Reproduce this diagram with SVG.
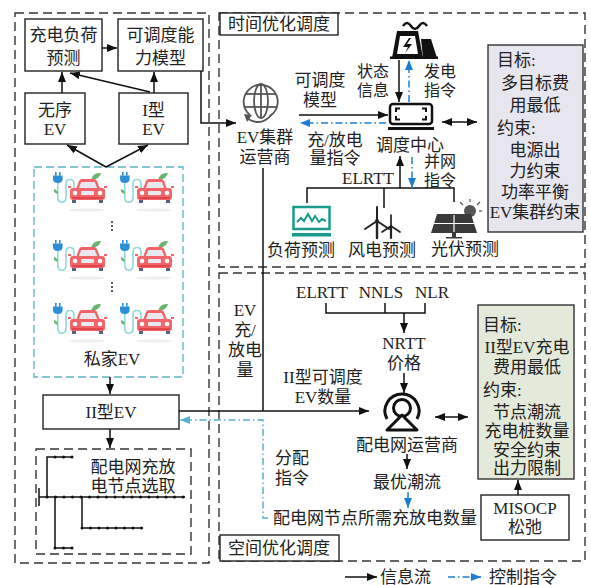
<svg xmlns="http://www.w3.org/2000/svg" xmlns:xlink="http://www.w3.org/1999/xlink" width="591" height="585" viewBox="0 0 591 585">
<style>
  text { font-family: "Liberation Serif", "Noto Sans CJK SC", serif; font-size: 17px; fill: #222; text-anchor: middle; dominant-baseline: central; }
  .l { text-anchor: start; }
  .s { font-size: 16px; }
  .box { fill: #fff; stroke: #222; stroke-width: 1.4; }
  .dash { fill: none; stroke: #333; stroke-width: 1.4; stroke-dasharray: 9 5; }
  .tdash { fill: none; stroke: #5ab4cc; stroke-width: 1.3; stroke-dasharray: 8 4; }
  .ln { fill: none; stroke: #111; stroke-width: 1.5; }
  .arr { fill: none; stroke: #111; stroke-width: 1.5; marker-end: url(#ah); }
  .bi { fill: none; stroke: #111; stroke-width: 1.5; marker-start: url(#ah); marker-end: url(#ah); }
  .ctl { fill: none; stroke: #1a7fd4; stroke-width: 1.5; stroke-dasharray: 7 3 1.5 3; marker-end: url(#ahb); }
  .ctl2 { fill: none; stroke: #58b0d0; stroke-width: 1.5; stroke-dasharray: 7 3 1.5 3; marker-end: url(#aht); }
  .dots { stroke: #111; stroke-width: 3; stroke-dasharray: 0 8.5; stroke-linecap: round; }
</style>
<defs>
  <marker id="ah" viewBox="0 0 10 8" refX="10" refY="4" markerWidth="10" markerHeight="8" markerUnits="userSpaceOnUse" orient="auto-start-reverse">
    <path d="M0,0 L10,4 L0,8 Z" fill="#111"/>
  </marker>
  <marker id="ahb" viewBox="0 0 10 8" refX="10" refY="4" markerWidth="10" markerHeight="8" markerUnits="userSpaceOnUse" orient="auto">
    <path d="M0,0 L10,4 L0,8 Z" fill="#1a7fd4"/>
  </marker>
  <marker id="aht" viewBox="0 0 10 8" refX="10" refY="4" markerWidth="10" markerHeight="8" markerUnits="userSpaceOnUse" orient="auto">
    <path d="M0,0 L10,4 L0,8 Z" fill="#58b0d0"/>
  </marker>
  <!-- electric car with charging plug -->
  <g id="ev">
    <ellipse cx="34" cy="38" rx="18" ry="1.6" fill="#eeeeee"/>
    <rect x="2" y="0" width="1.6" height="3.5" fill="#2b8fd6"/>
    <rect x="6" y="0" width="1.6" height="3.5" fill="#2b8fd6"/>
    <path d="M0,3.5 H9.6 V7 Q9.6,11 4.8,11 Q0,11 0,7 Z" fill="#2b8fd6"/>
    <path d="M4.8,11 V25 C4.8,32 13,32 13,25 V12 C13,6 21,6 21,12 V18" fill="none" stroke="#8fdada" stroke-width="1.6"/>
    <path d="M4.8,22 Q0,21 1,17 Q5,18 4.8,22 Z" fill="#6ab56e"/>
    <path d="M38,8 Q40,0 48,1 Q46,8 38,8 Z" fill="#6ab56e"/>
    <path d="M23,17 L26,9 Q27,7 29,7 H41 Q43,7 44,9 L47,17 Z" fill="#f26468"/>
    <path d="M25.8,16 L28.2,10 H41.8 L44.2,16 Z" fill="#e8e8f0"/>
    <rect x="15" y="14" width="3" height="2" fill="#f26468"/>
    <rect x="51" y="14" width="3" height="2" fill="#f26468"/>
    <rect x="17" y="16" width="35" height="12" rx="3" fill="#f26468"/>
    <circle cx="22" cy="21" r="2.3" fill="#fff"/>
    <circle cx="47" cy="21" r="2.3" fill="#fff"/>
    <rect x="28" y="19" width="13" height="4" rx="1" fill="#e8e8f0"/>
    <rect x="19" y="25" width="31" height="2" fill="#e0474d"/>
    <rect x="19" y="28" width="4" height="3" fill="#56627e"/>
    <rect x="46" y="28" width="4" height="3" fill="#56627e"/>
  </g>
</defs>

<rect width="591" height="585" fill="#fff"/>

<!-- left column: demand side -->
<g id="left-frame">
  <rect x="15" y="13" width="194" height="550" class="dash"/>
</g>
<g id="load-forecast">
  <rect x="25" y="19" width="77" height="52" class="box"/>
  <text x="63.5" y="35">充电负荷</text>
  <text x="63.5" y="58">预测</text>
</g>
<g id="capacity-model">
  <rect x="118" y="19" width="85" height="52" class="box"/>
  <text x="160.5" y="35">可调度能</text>
  <text x="160.5" y="58">力模型</text>
</g>
<g id="disordered-ev">
  <rect x="25" y="93" width="60" height="51" class="box"/>
  <text x="55" y="110">无序</text>
  <text x="55" y="129">EV</text>
</g>
<g id="type1-ev">
  <rect x="119" y="93" width="69" height="51" class="box"/>
  <text x="153.5" y="110">I型</text>
  <text x="153.5" y="129">EV</text>
</g>
<g id="private-ev">
  <rect x="34" y="167" width="149" height="210" class="tdash"/>
  <use xlink:href="#ev" x="53" y="172"/>
  <use xlink:href="#ev" x="120" y="172"/>
  <use xlink:href="#ev" x="53" y="240"/>
  <use xlink:href="#ev" x="120" y="240"/>
  <use xlink:href="#ev" x="53" y="303"/>
  <use xlink:href="#ev" x="120" y="303"/>
  <g fill="#222">
    <circle cx="112" cy="222" r="1"/><circle cx="112" cy="226" r="1"/><circle cx="112" cy="230" r="1"/>
    <circle cx="112" cy="283" r="1"/><circle cx="112" cy="287" r="1"/><circle cx="112" cy="291" r="1"/>
  </g>
  <text x="112" y="359">私家EV</text>
</g>
<g id="type2-ev">
  <rect x="43" y="395" width="136" height="34" class="box"/>
  <text x="111" y="412">II型EV</text>
</g>
<g id="node-selection">
  <rect x="36" y="449" width="155" height="105" class="dash"/>
  <text x="133" y="467">配电网充放</text>
  <text x="133" y="486">电节点选取</text>
  <g class="ln">
    <line x1="39" y1="488" x2="39" y2="506"/>
    <line x1="39" y1="497" x2="185" y2="497"/>
    <polyline points="47,497 47,457 73,457"/>
    <polyline points="55,497 55,548 73,548"/>
    <polyline points="82,497 82,528 143,528"/>
  </g>
  <line x1="47" y1="497" x2="186" y2="497" class="dots"/>
  <line x1="55" y1="457" x2="74" y2="457" class="dots"/>
  <line x1="55" y1="548" x2="74" y2="548" class="dots"/>
  <line x1="82" y1="528" x2="144" y2="528" class="dots"/>
</g>

<!-- temporal dispatch layer -->
<g id="time-frame">
  <rect x="219" y="13" width="366" height="254" class="dash"/>
  <rect x="220" y="13" width="118" height="22" class="box"/>
  <text x="279" y="24">时间优化调度</text>
</g>
<g id="ev-aggregator">
  <g fill="none" stroke="#555" stroke-width="1.8">
    <path d="M250,115 A17,17 0 1 1 270,116"/>
    <ellipse cx="261" cy="101" rx="7" ry="17"/>
    <line x1="261" y1="84" x2="261" y2="118"/>
    <line x1="246" y1="94" x2="276" y2="94"/>
    <line x1="245" y1="107" x2="277" y2="107"/>
    <path d="M272,114 Q262,127 248,119"/>
  </g>
  <path d="M244,114 L252,115 L247,122 Z" fill="#555"/>
  <text x="265" y="137">EV集群</text>
  <text x="265" y="157">运营商</text>
</g>
<g id="power-plant">
  <path d="M403,26 q4,-6 8,0 t8,0 t8,0" fill="none" stroke="#111" stroke-width="2.5"/>
  <path d="M392,58 L397,31 L418,31 L423,58 Z" fill="#111"/>
  <path d="M400,36 L415,36 L418,54 L397,54 Z" fill="#fff"/>
  <path d="M409,38 L403,47 L408,47 L405,53 L412,44 L407,44 L411,38 Z" fill="#111"/>
  <path d="M421,39 L431,39 L437,58 L423,58 Z" fill="#111"/>
  <rect x="390" y="56.5" width="48" height="2.5" fill="#111"/>
</g>
<g id="dispatch-center">
  <rect x="390" y="104" width="42" height="20" rx="3" fill="none" stroke="#111" stroke-width="2.5"/>
  <path d="M396,112 V108.5 H400 M422,108.5 H426 V112 M396,116 V119.5 H400 M426,116 V119.5 H422" fill="none" stroke="#111" stroke-width="2"/>
  <rect x="388" y="127" width="46" height="3" fill="#111"/>
  <text x="410" y="145">调度中心</text>
</g>
<g id="load-fc">
  <rect x="293.5" y="207" width="36" height="22" fill="none" stroke="#1a9b8c" stroke-width="2.5"/>
  <polyline points="297,222 301,218 304,221 308,214 312,221 315,216 319,222 322,219 326,221" fill="none" stroke="#1a9b8c" stroke-width="2"/>
  <rect x="292" y="233" width="39" height="3.5" fill="#1a9b8c"/>
  <text x="301" y="250">负荷预测</text>
</g>
<g id="wind-fc">
  <g stroke="#222" stroke-linecap="round">
    <line x1="377" y1="221" x2="377" y2="238" stroke-width="2.4"/>
    <line x1="377" y1="221" x2="377" y2="207" stroke-width="2"/>
    <line x1="377" y1="221" x2="365" y2="229" stroke-width="2"/>
    <line x1="377" y1="221" x2="389" y2="229" stroke-width="2"/>
    <line x1="391" y1="226" x2="391" y2="238" stroke-width="2.2"/>
    <line x1="391" y1="226" x2="391" y2="215" stroke-width="1.7"/>
    <line x1="391" y1="226" x2="382" y2="232" stroke-width="1.7"/>
    <line x1="391" y1="226" x2="400" y2="232" stroke-width="1.7"/>
  </g>
  <circle cx="377" cy="221" r="2" fill="#222"/>
  <text x="382" y="250">风电预测</text>
</g>
<g id="pv-fc">
  <circle cx="470" cy="211" r="6" fill="#555"/>
  <g stroke="#555" stroke-width="1.2">
    <line x1="470" y1="202" x2="470" y2="199"/>
    <line x1="477" y1="205" x2="480" y2="202"/>
    <line x1="479" y1="211" x2="482" y2="211"/>
    <line x1="463" y1="205" x2="460" y2="202"/>
  </g>
  <path d="M437,214 L471,214 L477,233 L431,233 Z" fill="#3a3a3a"/>
  <g stroke="#fff" stroke-width="1.2">
    <line x1="454" y1="215" x2="454" y2="232"/>
    <line x1="434" y1="223.5" x2="474" y2="223.5"/>
  </g>
  <rect x="452" y="233" width="4" height="4" fill="#3a3a3a"/>
  <rect x="446" y="237" width="16" height="1.5" fill="#3a3a3a"/>
  <text x="465" y="249">光伏预测</text>
</g>
<g id="time-objective">
  <rect x="488" y="45" width="95" height="187" fill="#e7e5ee" stroke="#333" stroke-width="1.4"/>
  <text x="497" y="60" class="l">目标:</text>
  <text x="535" y="83">多目标费</text>
  <text x="535" y="105">用最低</text>
  <text x="497" y="128" class="l">约束:</text>
  <text x="535" y="150">电源出</text>
  <text x="535" y="171">力约束</text>
  <text x="535" y="192">功率平衡</text>
  <text x="535" y="212">EV集群约束</text>
</g>

<!-- spatial dispatch layer -->
<g id="space-frame">
  <rect x="219" y="273" width="366" height="288" class="dash"/>
  <rect x="220" y="535" width="119" height="26" class="box"/>
  <text x="279" y="548">空间优化调度</text>
</g>
<g id="price-models">
  <text x="322" y="292">ELRTT</text>
  <text x="381" y="292">NNLS</text>
  <text x="432" y="292">NLR</text>
  <text x="404" y="343">NRTT</text>
  <text x="404" y="363">价格</text>
</g>
<g id="dso">
  <path d="M387,419 A17,17 0 1 1 417,419" fill="none" stroke="#111" stroke-width="3"/>
  <circle cx="402" cy="408" r="8.5" fill="#fff" stroke="#111" stroke-width="3"/>
  <path d="M387,430 L402,415 L417,430 Z" fill="#fff" stroke="#111" stroke-width="3" stroke-linejoin="round"/>
  <text x="407" y="445">配电网运营商</text>
  <text x="407" y="482">最优潮流</text>
</g>
<g id="space-objective">
  <rect x="478" y="305" width="96" height="174" fill="#e4ead9" stroke="#333" stroke-width="1.4"/>
  <text x="483" y="325" class="l">目标:</text>
  <text x="527" y="347">II型EV充电</text>
  <text x="527" y="367">费用最低</text>
  <text x="483" y="390" class="l">约束:</text>
  <text x="527" y="412">节点潮流</text>
  <text x="527" y="431">充电桩数量</text>
  <text x="527" y="450">安全约束</text>
  <text x="527" y="468">出力限制</text>
</g>
<g id="misocp">
  <rect x="481" y="495" width="88" height="45" class="box"/>
  <text x="525" y="508">MISOCP</text>
  <text x="525" y="527">松弛</text>
</g>

<!-- connector labels -->
<g id="edge-labels">
  <text x="320" y="80">可调度</text>
  <text x="320" y="100">模型</text>
  <text x="335" y="140">充/放电</text>
  <text x="335" y="158">量指令</text>
  <text x="373" y="71" class="s">状态</text>
  <text x="373" y="90" class="s">信息</text>
  <text x="440" y="71" class="s">发电</text>
  <text x="440" y="90" class="s">指令</text>
  <text x="368" y="178">ELRTT</text>
  <text x="440" y="161" class="s">并网</text>
  <text x="440" y="180" class="s">指令</text>
  <text x="245" y="310">EV</text>
  <text x="245" y="330">充/</text>
  <text x="245" y="350">放电</text>
  <text x="245" y="370">量</text>
  <text x="323" y="377">II型可调度</text>
  <text x="323" y="397">EV数量</text>
  <text x="275" y="458" class="l">分配</text>
  <text x="275" y="478" class="l">指令</text>
  <text x="375" y="518">配电网节点所需充放电数量</text>
</g>

<g id="connectors">
  <!-- demand side -->
  <line x1="102" y1="48" x2="117" y2="48" class="arr"/>
  <line x1="62" y1="93" x2="62" y2="72" class="arr"/>
  <line x1="154" y1="93" x2="154" y2="72" class="arr"/>
  <line x1="150" y1="92" x2="70" y2="73" class="arr"/>
  <line x1="106" y1="167" x2="67" y2="145" class="arr"/>
  <line x1="106" y1="167" x2="148" y2="145" class="arr"/>
  <line x1="110" y1="377" x2="110" y2="394" class="arr"/>
  <line x1="110" y1="429" x2="110" y2="448" class="arr"/>
  <path d="M201,71 V123 H236" class="arr"/>
  <!-- temporal layer -->
  <line x1="299" y1="115" x2="388" y2="115" class="arr"/>
  <line x1="386" y1="123" x2="300" y2="123" class="ctl"/>
  <line x1="399" y1="60" x2="399" y2="102" class="arr"/>
  <line x1="409" y1="102" x2="409" y2="60" class="ctl"/>
  <path d="M307,203 V188 H454 V202" class="ln"/>
  <line x1="384" y1="188" x2="384" y2="208" class="ln"/>
  <line x1="400" y1="188" x2="400" y2="156" class="arr"/>
  <line x1="412" y1="157" x2="412" y2="188" class="ctl"/>
  <line x1="442" y1="122" x2="477" y2="122" class="bi"/>
  <!-- spatial layer -->
  <line x1="263" y1="168" x2="263" y2="411" class="ln"/>
  <line x1="179" y1="411" x2="369" y2="411" class="arr"/>
  <path d="M268,518 H263 V420 H180" class="ctl2"/>
  <path d="M326,303 V313 H425 V303" class="ln"/>
  <line x1="385" y1="303" x2="385" y2="313" class="ln"/>
  <line x1="404" y1="313" x2="404" y2="333" class="arr"/>
  <line x1="404" y1="373" x2="404" y2="393" class="arr"/>
  <line x1="407" y1="454" x2="407" y2="469" class="arr"/>
  <line x1="408" y1="492" x2="408" y2="508" class="ctl"/>
  <line x1="435" y1="417" x2="468" y2="417" class="bi"/>
  <line x1="518" y1="495" x2="518" y2="480" class="arr"/>
</g>

<g id="legend">
  <line x1="345" y1="577" x2="377" y2="577" class="arr"/>
  <text x="380" y="577" class="l">信息流</text>
  <line x1="448" y1="577" x2="481" y2="577" class="ctl"/>
  <text x="489" y="577" class="l">控制指令</text>
</g>
</svg>
